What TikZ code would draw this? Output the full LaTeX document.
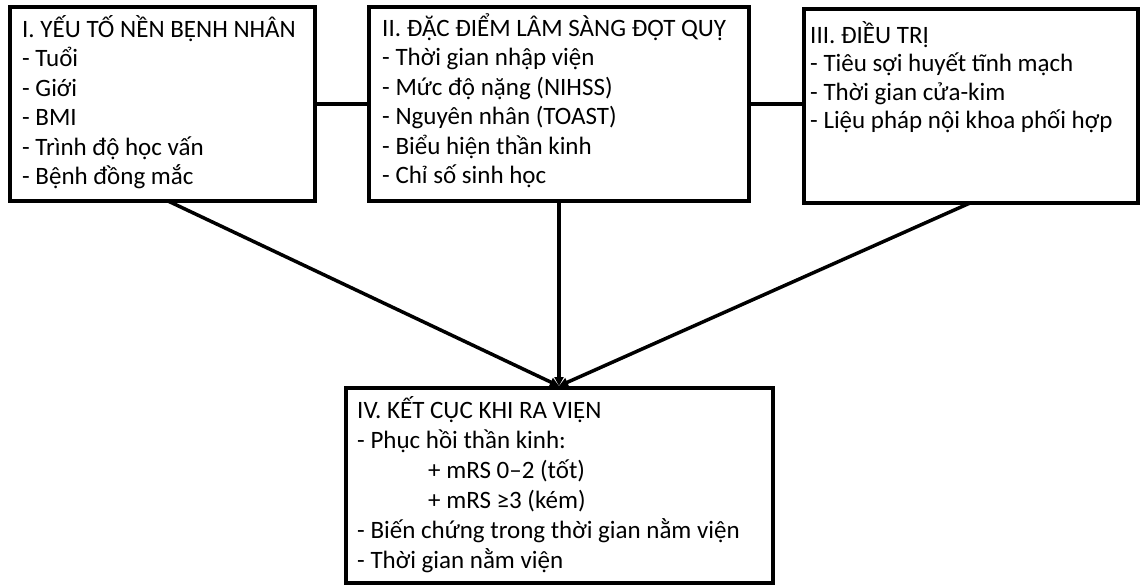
\documentclass[tikz,border=0pt]{standalone}
\usepackage{fontspec}
\setmainfont{Carlito}
\usetikzlibrary{arrows.meta}
\begin{document}
\begin{tikzpicture}[x=1pt,y=-1pt,
  box/.style={rectangle, draw, line width=4.5pt, fill=white, inner sep=0pt, outer sep=0pt, anchor=north west},
  txt/.style={anchor=base west, align=left, inner sep=0pt, font=\fontsize{25}{29.5}\selectfont},
  link/.style={line width=4.5pt},
  arr/.style={line width=3.5pt, -{Triangle[length=9pt,width=9pt]}}]
\useasboundingbox (0,0) rectangle (1141,586);
\node[box, minimum width=305pt, minimum height=194pt] (b1) at (10,7) {};
\node[box, minimum width=380pt, minimum height=194pt] (b2) at (369,7) {};
\node[box, minimum width=334pt, minimum height=194pt] (b3) at (804,9) {};
\node[box, minimum width=427pt, minimum height=195pt] (b4) at (346,388) {};
% text blocks, placed at the baseline of their last line
\node[txt] (t1) at (22,184.5) {I. YẾU TỐ NỀN BỆNH NHÂN\\- Tuổi\\- Giới\\- BMI\\- Trình độ học vấn\\- Bệnh đồng mắc};
\node[txt] (t2) at (382,183.5) {II. ĐẶC ĐIỂM LÂM SÀNG ĐỘT QUỴ\\- Thời gian nhập viện\\- Mức độ nặng (NIHSS)\\- Nguyên nhân (TOAST)\\- Biểu hiện thần kinh\\- Chỉ số sinh học};
\node[txt, font=\fontsize{25}{28.5}\selectfont] (t3) at (810,128.5) {III. ĐIỀU TRỊ\\- Tiêu sợi huyết tĩnh mạch\\- Thời gian cửa-kim\\- Liệu pháp nội khoa phối hợp};
\node[txt, font=\fontsize{25}{30}\selectfont] (t4) at (357,568) {IV. KẾT CỤC KHI RA VIỆN\\- Phục hồi thần kinh:\\\hspace*{71pt}+ mRS 0–2 (tốt)\\\hspace*{71pt}+ mRS ≥3 (kém)\\- Biến chứng trong thời gian nằm viện\\- Thời gian nằm viện};
% side links
\draw[link] (b1) -- (b2);
\draw[link] (b2.east) -- (b2.east -| b3.west);
% arrows to outcome
\coordinate (o1) at (168,201);
\coordinate (o3) at (970,203);
\coordinate (in4) at (559,386);
\draw[arr] (o1) -- (in4);
\draw[arr] (b2.south -| in4) -- (in4);
\draw[arr] (o3) -- (in4);
\end{tikzpicture}
\end{document}
